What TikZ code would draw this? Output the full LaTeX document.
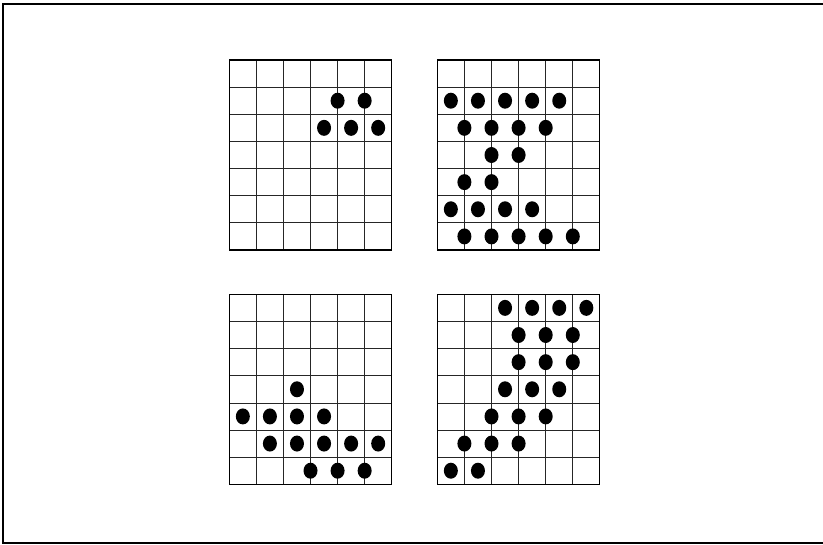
\documentclass[tikz,border=0pt]{standalone}
\begin{document}
\begin{tikzpicture}[x=1pt,y=-1pt,
  gridline/.style={line width=0.7pt,black!85},
  gridframe/.style={line width=1.1pt,black},
  framebox/.style={line width=1.2pt,black},
  dotmark/.style={fill=black}]
\useasboundingbox (0,0) rectangle (823,545);
\draw[framebox] (823,4) -- (3,4) -- (3,543) -- (823,543);
% grid 1 (top left)
\begin{scope}[shift={(229.3,60)},x=27.07pt,y=-27.14pt]
  \foreach \c in {1,...,5} \draw[gridline] (\c,0) -- (\c,7);
  \foreach \r in {1,...,6} \draw[gridline] (0,\r) -- (6,\r);
  \draw[gridframe] (0,0) rectangle (6,7);
  \foreach \px/\py in {4/1.5,5/1.5,3.5/2.5,4.5/2.5,5.5/2.5}
    \fill[dotmark] (\px,\py) ellipse [x radius=7pt,y radius=8pt];
\end{scope}
% grid 2 (top right)
\begin{scope}[shift={(437.3,60)},x=27.1pt,y=-27.14pt]
  \foreach \c in {1,...,5} \draw[gridline] (\c,0) -- (\c,7);
  \foreach \r in {1,...,6} \draw[gridline] (0,\r) -- (6,\r);
  \draw[gridframe] (0,0) rectangle (6,7);
  \foreach \px/\py in {0.5/1.5,1.5/1.5,2.5/1.5,3.5/1.5,4.5/1.5,
                       1/2.5,2/2.5,3/2.5,4/2.5,
                       2/3.5,3/3.5,
                       1/4.5,2/4.5,
                       0.5/5.5,1.5/5.5,2.5/5.5,3.5/5.5,
                       1/6.5,2/6.5,3/6.5,4/6.5,5/6.5}
    \fill[dotmark] (\px,\py) ellipse [x radius=7pt,y radius=8pt];
\end{scope}
% grid 3 (bottom left)
\begin{scope}[shift={(229.3,294.3)},x=27.07pt,y=-27.14pt]
  \foreach \c in {1,...,5} \draw[gridline] (\c,0) -- (\c,7);
  \foreach \r in {1,...,6} \draw[gridline] (0,\r) -- (6,\r);
  \draw[gridframe] (0,0) rectangle (6,7);
  \foreach \px/\py in {2.5/3.5,
                       0.5/4.5,1.5/4.5,2.5/4.5,3.5/4.5,
                       1.5/5.5,2.5/5.5,3.5/5.5,4.5/5.5,5.5/5.5,
                       3/6.5,4/6.5,5/6.5}
    \fill[dotmark] (\px,\py) ellipse [x radius=7pt,y radius=8pt];
\end{scope}
% grid 4 (bottom right)
\begin{scope}[shift={(437.3,294.3)},x=27.1pt,y=-27.14pt]
  \foreach \c in {1,...,5} \draw[gridline] (\c,0) -- (\c,7);
  \foreach \r in {1,...,6} \draw[gridline] (0,\r) -- (6,\r);
  \draw[gridframe] (0,0) rectangle (6,7);
  \foreach \px/\py in {2.5/0.5,3.5/0.5,4.5/0.5,5.5/0.5,
                       3/1.5,4/1.5,5/1.5,
                       3/2.5,4/2.5,5/2.5,
                       2.5/3.5,3.5/3.5,4.5/3.5,
                       2/4.5,3/4.5,4/4.5,
                       1/5.5,2/5.5,3/5.5,
                       0.5/6.5,1.5/6.5}
    \fill[dotmark] (\px,\py) ellipse [x radius=7pt,y radius=8pt];
\end{scope}
\end{tikzpicture}
\end{document}
